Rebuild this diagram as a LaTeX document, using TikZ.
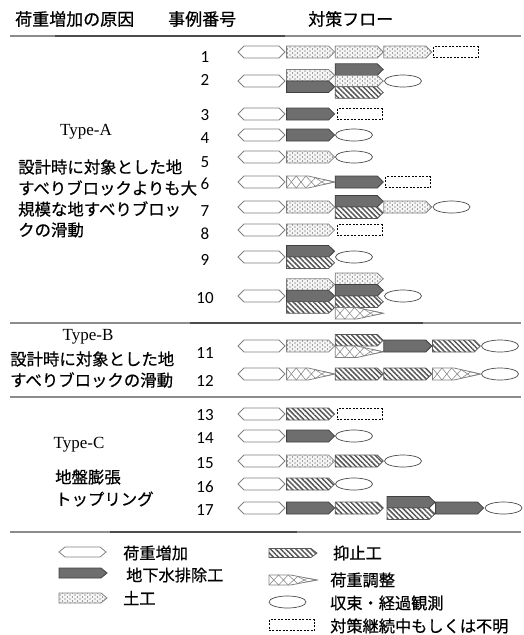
\documentclass[tikz,border=0pt]{standalone}
\usepackage{fontspec}
\setmainfont{Liberation Serif}
\newfontfamily\jpf[BoldFont={Noto Sans CJK JP},BoldFeatures={FakeBold=0.6}]{Noto Sans CJK JP}
\newfontfamily\numf{Carlito}
\usetikzlibrary{patterns,patterns.meta}

\tikzdeclarepattern{
  name=sdots,
  type=uncolored,
  bottom left={(-0.6pt,-0.6pt)},
  top right={(5.6pt,4.6pt)},
  tile size={(5pt,4pt)},
  code={\fill (0pt,0pt) circle (0.55pt); \fill (2.5pt,2pt) circle (0.55pt);}
}

% x, y(center), h
\newcommand\HexS[3]{%
  \draw[hexst] ({#1},{#2}) -- ({#1+6},{#2-#3/2}) -- ({#1+41},{#2-#3/2}) -- ({#1+47},{#2})
    -- ({#1+41},{#2+#3/2}) -- ({#1+6},{#2+#3/2}) -- cycle;}
% style, x, y, h
\newcommand\ArrS[4]{%
  \draw[#1] ({#2},{#3-#4/2}) -- ({#2+42},{#3-#4/2}) -- ({#2+48},{#3})
    -- ({#2+42},{#3+#4/2}) -- ({#2},{#3+#4/2}) -- cycle;}
% load adjustment shape: x, y, h
\newcommand\LcS[3]{%
  \fill[white] ({#1},{#2-#3/2}) -- ({#1+21.6},{#2-#3/2}) -- ({#1+48},{#2})
    -- ({#1+21.6},{#2+#3/2}) -- ({#1},{#2+#3/2}) -- cycle;
  \draw[lcin] ({#1},{#2-#3/2}) -- ({#1+9.6},{#2+#3/2}) -- ({#1+19.2},{#2-#3/2})
    -- ({#1+28.8},{#2+0.36*#3}) -- ({#1+38.4},{#2-0.18*#3}) -- ({#1+48},{#2});
  \draw[lcin] ({#1},{#2+#3/2}) -- ({#1+9.6},{#2-#3/2}) -- ({#1+19.2},{#2+#3/2})
    -- ({#1+28.8},{#2-0.36*#3}) -- ({#1+38.4},{#2+0.18*#3}) -- ({#1+48},{#2});
  \draw[lcst] ({#1},{#2-#3/2}) -- ({#1+21.6},{#2-#3/2}) -- ({#1+48},{#2})
    -- ({#1+21.6},{#2+#3/2}) -- ({#1},{#2+#3/2}) -- cycle;}
% ellipse: x, y
\newcommand\ElS[2]{%
  \draw[elst] ({#1+18.5},{#2}) ellipse [x radius=18.5pt, y radius=6pt];}
% dashed box: x, y
\newcommand\DashS[2]{%
  \draw[dashst] ({#1+1},{#2-5.5}) rectangle ({#1+46},{#2+5.5});}

\begin{document}
\begin{tikzpicture}[x=1pt,y=-1pt,
  hexst/.style={draw=black!50, fill=white, line width=0.8pt},
  darkst/.style={draw=black!75, fill=black!57, line width=0.8pt},
  dotst/.style={draw=black!50, preaction={fill=black!4}, pattern=sdots, pattern color=black!70, line width=0.8pt},
  hatchst/.style={draw=black!65, preaction={fill=white}, pattern={Lines[angle=-45,distance=3.6pt,line width=1.5pt]}, pattern color=black!66, line width=0.8pt},
  lcin/.style={draw=black!45, line width=0.6pt},
  lcst/.style={draw=black!50, line width=0.8pt},
  elst/.style={draw=black!70, fill=white, line width=0.7pt},
  dashst/.style={draw=black, dash pattern=on 2pt off 1.5pt, line width=0.7pt},
  sepl/.style={draw=black!45, line width=1.4pt},
  sepd/.style={draw=black!70, line width=1.4pt},
  hdr/.style={font=\jpf\bfseries\fontsize{17}{20}\selectfont, inner sep=0pt},
  jpt/.style={font=\jpf\bfseries\fontsize{16.4}{20}\selectfont, inner sep=0pt, anchor=west},
  lgt/.style={font=\jpf\bfseries\fontsize{16.2}{20}\selectfont, inner sep=0pt, anchor=west},
  numst/.style={font=\numf\fontsize{17}{20}\selectfont, inner sep=0pt},
  typest/.style={font=\fontsize{17}{20}\selectfont, inner sep=0pt}
]
\useasboundingbox (0,0) rectangle (523,635);

% header
\node[hdr, anchor=west] (h1) at (15,19) {荷重増加の原因};
\node[hdr, anchor=west] (h2) at (168,19) {事例番号};
\node[hdr, anchor=west] (h3) at (308,19) {対策フロー};

% separator lines
\draw[sepl] (10,36) -- (521,36);
\draw[sepd] (55,36) -- (285,36);
\draw[sepl] (10,323) -- (521,323);
\draw[sepd] (190,323) -- (423,323);
\draw[sepl] (10,397) -- (521,397);
\draw[sepl] (10,532) -- (521,532);
\draw[sepd] (110,532) -- (297,532);

% type labels
\node[typest] (ta) at (86,132) {Type-A};
\node[jpt] (ta1) at (18,167) {設計時に対象とした地};
\node[jpt] (ta2) at (18,188) {すべりブロックよりも大};
\node[jpt] (ta3) at (18,209) {規模な地すべりブロッ};
\node[jpt] (ta4) at (18,230) {クの滑動};

\node[typest] (tb) at (88,337) {Type-B};
\node[jpt] (tb1) at (10,359) {設計時に対象とした地};
\node[jpt] (tb2) at (10,380) {すべりブロックの滑動};

\node[typest] (tc) at (79,445) {Type-C};
\node[jpt] (tc1) at (55,477) {地盤膨張};
\node[jpt] (tc2) at (55,499) {トップリング};

% case numbers
\foreach \n/\yy in {1/57,2/80,3/115,4/138,5/162,6/184,7/211,8/234,9/260,10/298,
                    11/353,12/381,13/415,14/438,15/463,16/487,17/510}
  \node[numst] (n\n) at (205,\yy) {\n};

% row 1
\HexS{238}{52}{12}
\ArrS{dotst}{286.6}{52}{12}
\ArrS{dotst}{335.2}{52}{12}
\ArrS{dotst}{383.8}{52}{12}
\DashS{432.4}{52}
% row 2
\HexS{238}{81}{12}
\ArrS{dotst}{286.6}{75.25}{11.5}
\ArrS{darkst}{286.6}{86.75}{11.5}
\ArrS{darkst}{335.2}{69.5}{11.5}
\ArrS{dotst}{335.2}{81}{11.5}
\ArrS{hatchst}{335.2}{92.5}{11.5}
\ElS{384.5}{81}
% row 3
\HexS{238}{114}{12}
\ArrS{darkst}{286.6}{114}{12}
\DashS{336}{114}
% row 4
\HexS{238}{135}{12}
\ArrS{darkst}{286.6}{135}{12}
\ElS{335.5}{135}
% row 5
\HexS{238}{157}{12}
\ArrS{dotst}{286.6}{157}{12}
\ElS{335.5}{157}
% row 6
\HexS{238}{182}{12}
\LcS{286.6}{182}{12}
\ArrS{darkst}{335.2}{182}{12}
\DashS{384.5}{182}
% row 7
\HexS{238}{207}{12}
\ArrS{dotst}{286.6}{207}{12}
\ArrS{darkst}{335.2}{201.25}{11.5}
\ArrS{hatchst}{335.2}{212.75}{11.5}
\ArrS{dotst}{383.8}{207}{12}
\ElS{433}{207}
% row 8
\HexS{238}{230}{12}
\ArrS{dotst}{286.6}{230}{12}
\DashS{336}{230}
% row 9
\HexS{238}{257}{12}
\ArrS{darkst}{286.6}{251.25}{11.5}
\ArrS{hatchst}{286.6}{262.75}{11.5}
\ElS{335.5}{257}
% row 10
\HexS{238}{296}{12}
\ArrS{dotst}{286.6}{284.5}{11.5}
\ArrS{darkst}{286.6}{296}{11.5}
\ArrS{hatchst}{286.6}{307.5}{11.5}
\ArrS{dotst}{335.2}{278.75}{11.5}
\ArrS{darkst}{335.2}{290.25}{11.5}
\ArrS{hatchst}{335.2}{301.75}{11.5}
\LcS{335.2}{313.25}{11.5}
\ElS{384.5}{296}
% row 11
\HexS{238}{346}{12}
\ArrS{dotst}{286.6}{346}{12}
\ArrS{hatchst}{335.2}{340.25}{11.5}
\LcS{335.2}{351.75}{11.5}
\ArrS{darkst}{383.8}{346}{12}
\ArrS{hatchst}{432.4}{346}{12}
\ElS{481.5}{346}
% row 12
\HexS{238}{374}{12}
\LcS{286.6}{374}{12}
\ArrS{hatchst}{335.2}{374}{12}
\ArrS{hatchst}{383.8}{374}{12}
\LcS{432.4}{374}{12}
\ElS{481.5}{374}
% row 13
\HexS{238}{414}{12}
\ArrS{hatchst}{286.6}{414}{12}
\DashS{336}{414}
% row 14
\HexS{238}{436}{12}
\ArrS{darkst}{286.6}{436}{12}
\ElS{335.5}{436}
% row 15
\HexS{238}{461}{12}
\ArrS{dotst}{286.6}{461}{12}
\ArrS{hatchst}{335.2}{461}{12}
\ElS{384.5}{461}
% row 16
\HexS{238}{484}{12}
\ArrS{hatchst}{286.6}{484}{12}
\ElS{335.5}{484}
% row 17
\HexS{238}{508}{12}
\ArrS{darkst}{286.6}{508}{12}
\ArrS{hatchst}{335.2}{508}{12}
\ArrS{darkst}{387}{502.25}{11.5}
\ArrS{hatchst}{387}{513.75}{11.5}
\ArrS{darkst}{435.6}{508}{12}
\ElS{485}{508}

% legend
\HexS{59}{552}{10}
\ArrS{darkst}{59}{573}{10}
\ArrS{dotst}{59}{598}{10}
\node[lgt] (l1) at (123,553) {荷重増加};
\node[lgt] (l2) at (126,575) {地下水排除工};
\node[lgt] (l3) at (123,598) {土工};

\ArrS{hatchst}{269}{553}{9}
\LcS{269}{580}{10}
\ElS{269}{602}
\DashS{268}{625}
\node[lgt] (l4) at (333,553) {抑止工};
\node[lgt] (l5) at (330,580) {荷重調整};
\node[lgt] (l6) at (330,603) {収束・経過観測};
\node[lgt] (l7) at (330,626) {対策継続中もしくは不明};
\end{tikzpicture}
\end{document}
